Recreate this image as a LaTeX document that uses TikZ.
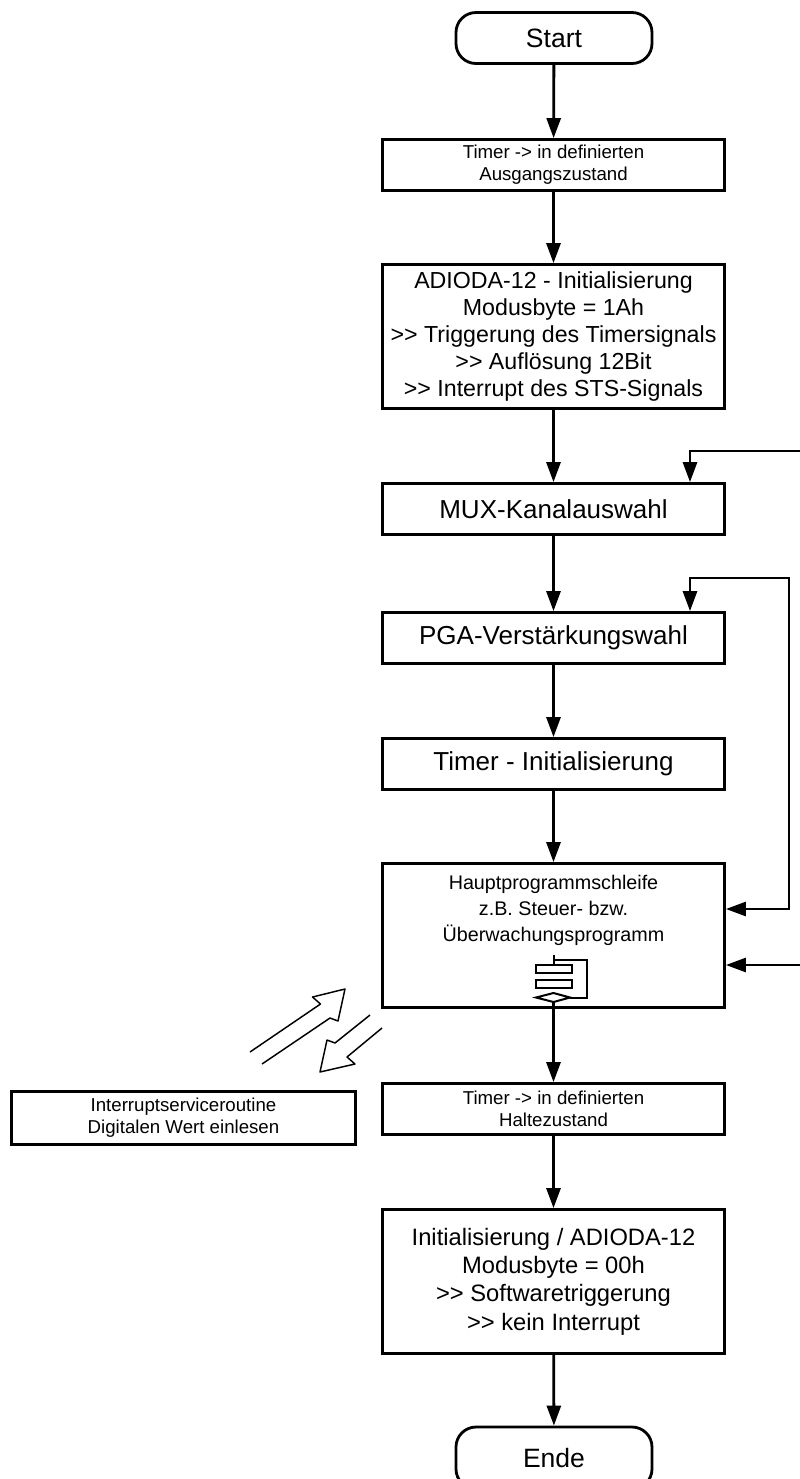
\documentclass[tikz,border=0pt]{standalone}
\usepackage{fontspec}
\setmainfont{Liberation Sans}
\usetikzlibrary{arrows.meta}
\newcommand\FontT{\fontsize{19.9pt}{22pt}\selectfont}
\newcommand\FontM{\fontsize{19.5pt}{21pt}\selectfont}
\newcommand\FontL{\fontsize{17.4pt}{20.3pt}\selectfont}
\newcommand\FontLi{\fontsize{17.8pt}{21.2pt}\selectfont}
\newcommand\FontH{\fontsize{14.8pt}{19.5pt}\selectfont}
\newcommand\FontS{\fontsize{14pt}{16.5pt}\selectfont}
\newcommand\GG{>\kern0pt>}
\begin{document}
\begin{tikzpicture}[x=0.75pt,y=-0.75pt,
  box/.style={draw, line width=2.1pt, align=center, inner sep=0pt,
    minimum width=256.5pt},
  term/.style={draw, line width=2.1pt, rounded corners=15pt, align=center,
    inner sep=0pt, minimum width=147pt, font=\FontT},
  flow/.style={line width=2.1pt, -{Triangle[length=15pt,width=10.5pt]}},
  back/.style={line width=2.1pt, {Triangle[length=15pt,width=10.5pt]}-{Triangle[length=15pt,width=10.5pt]}},
  icon/.style={line width=1.5pt},
  hollow/.style={line width=1.1pt, line join=round}
]
\useasboundingbox (0,0) rectangle (800,1479);

% nodes
\node[term, minimum height=38.25pt] (start) at (554,38) {Start};
\node[box, minimum height=38.25pt, font=\FontS] (t1) at (553.5,165)
  {Timer -> in definierten\\Ausgangszustand};
\node[box, minimum height=108pt, font=\FontL] (adi) at (553.5,336.5)
  {ADIODA-12 - Initialisierung\\Modusbyte = 1Ah\\\GG{} Triggerung des Timersignals\\\GG{} Aufl\"osung 12Bit\\\GG{} Interrupt des STS-Signals};
\node[box, minimum height=38.25pt, font=\FontM] (mux) at (553.5,509) {MUX-Kanalauswahl};
\node[box, minimum height=38.25pt, font=\FontM] (pga) at (553.5,638) {PGA-Verst\"arkungswahl};
\node[box, minimum height=38.25pt, font=\FontM] (tinit) at (553.5,764) {Timer - Initialisierung};
\node[box, minimum height=108pt] (haupt) at (553.5,935.5) {};
\node[align=center, inner sep=0pt, font=\FontH] (hauptText) at (553.5,910)
  {Hauptprogrammschleife\\z.B. Steuer- bzw.\\\"Uberwachungsprogramm};
\node[box, minimum height=38.25pt, font=\FontS] (thalt) at (553.5,1109)
  {Timer -> in definierten\\Haltezustand};
\node[box, minimum width=258pt, minimum height=39.75pt, font=\FontS] (isr) at (183.5,1118)
  {Interruptserviceroutine\\Digitalen Wert einlesen};
\node[box, minimum height=108pt, font=\FontLi] (init) at (553.5,1281.5)
  {Initialisierung / ADIODA-12\\Modusbyte = 00h\\\GG{} Softwaretriggerung\\\GG{} kein Interrupt};
\node[term, minimum height=46.5pt] (ende) at (554,1458) {Ende};

% loop icon inside main loop
\coordinate (stubTop) at (553.5,955);
\coordinate (dTop) at (553.5,993);
\coordinate (dBot) at (553.5,1002);
\coordinate (dLeft) at (536,997.5);
\coordinate (dRight) at (570,997.5);
\draw[icon] (stubTop) -- (553.5,965);
\draw[icon] (536,965) rectangle (572,973);
\draw[icon] (536,980) rectangle (572,988);
\draw[icon] (dLeft) -- (dTop) -- (dRight) -- (dBot) -- cycle;
\draw[icon] (553.5,960) -- (587,960) -- (587,997.5) -- (dRight);

% main flow
\draw[flow] (start) -- (t1);
\draw[flow] (t1) -- (adi);
\draw[flow] (adi) -- (mux);
\draw[flow] (mux) -- (pga);
\draw[flow] (pga) -- (tinit);
\draw[flow] (tinit) -- (haupt);
\draw[flow] (dBot) -- (thalt);
\draw[flow] (thalt) -- (init);
\draw[flow] (init) -- (ende);

% feedback lines
\coordinate (yA) at (0,909);
\coordinate (yB) at (0,965);
\coordinate (xA) at (690,0);
\draw[back] (haupt.east |- yA) -- (789,909) -- (789,578) -- (690,578) -- (pga.north -| xA);
\draw[back] (haupt.east |- yB) -- (801,965) -- (801,451) -- (690,451) -- (mux.north -| xA);

% hollow arrows (interrupt)
\draw[hollow] (250,1052) -- (320.5,1004) -- (312.5,997) -- (345,989) -- (338,1021) -- (330,1018) -- (262,1064);
\draw[hollow] (370,1015) -- (335,1043) -- (327,1040) -- (320,1072) -- (355,1064) -- (347,1057) -- (382,1028);
\end{tikzpicture}
\end{document}
